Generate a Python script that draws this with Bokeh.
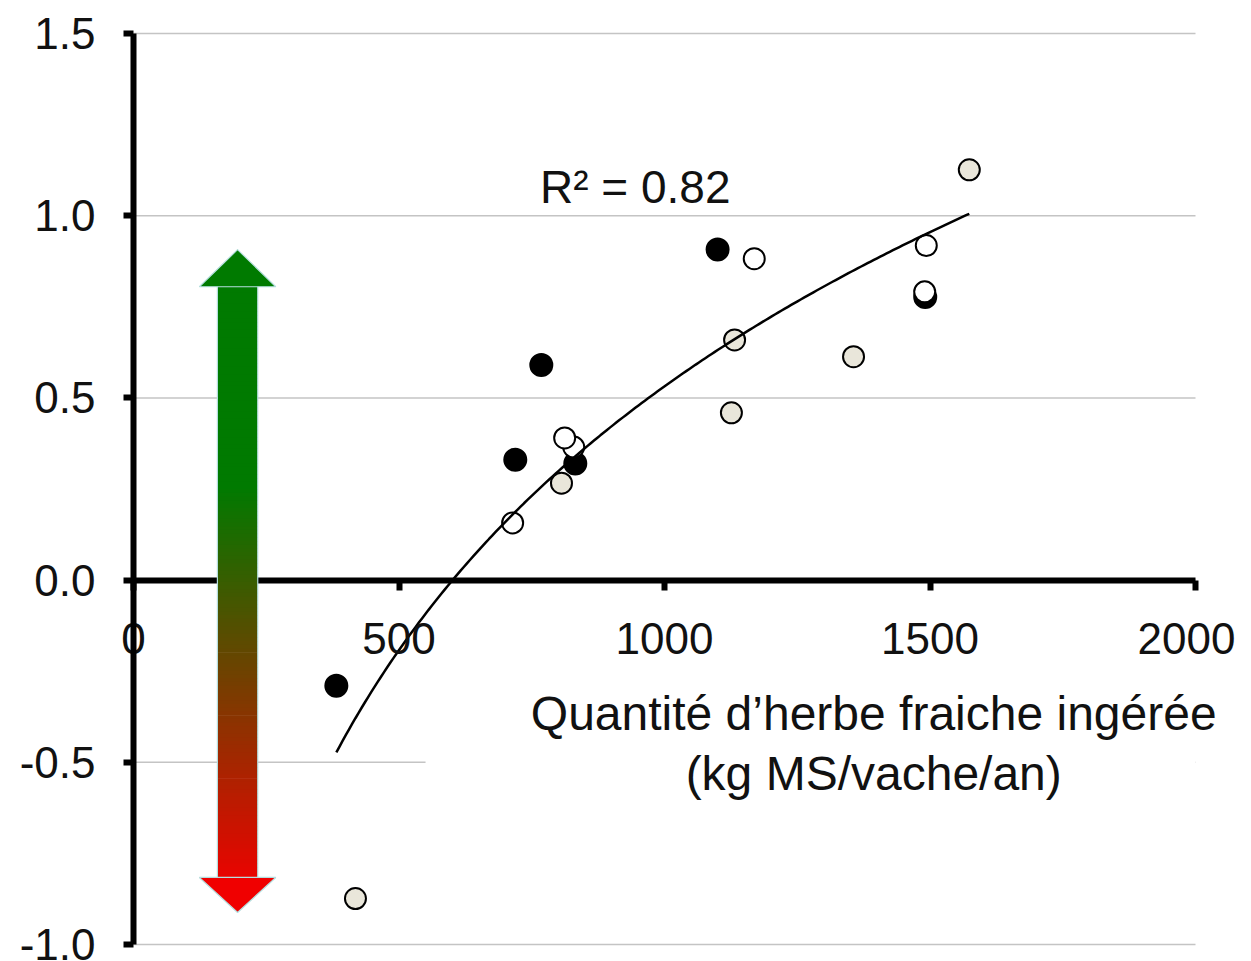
import numpy as np
from bokeh.plotting import figure
from bokeh.models import FixedTicker, BoxAnnotation, Range1d
from bokeh.core.properties import value
from bokeh.embed import file_html
from bokeh.resources import INLINE

# ---------------- data ----------------
black_x = [382, 719, 768, 832, 1100, 1491]
black_y = [-0.29, 0.33, 0.59, 0.32, 0.907, 0.777]
white_x = [714, 829, 812, 1169, 1493, 1490]
white_y = [0.157, 0.365, 0.39, 0.882, 0.918, 0.791]
beige_x = [418, 806, 1132, 1126, 1356, 1574]
beige_y = [-0.874, 0.266, 0.659, 0.459, 0.613, 1.126]

# logarithmic trendline y = a*ln(x) + b
trend_a = 1.044
trend_b = -6.68
trend_x_range = [382, 1574]
r2 = 0.82

x_ticks = [0, 500, 1000, 1500, 2000]
x_bounds = (0, 2000)
y_ticks = [-1.0, -0.5, 0.0, 0.5, 1.0, 1.5]
y_bounds = (-1.0, 1.5)
y_tick_labels = ["-1.0", "-0.5", "0.0", "0.5", "1.0", "1.5"]
x_title = ["Quantité d’herbe fraiche ingérée", "(kg MS/vache/an)"]

FONT = "Liberation Sans"
FS = "44px"

# ---------------- layout geometry (pixels) ----------------
W, H = 1235, 961
X0_PX, X1_PX = 133, 1195      # where x=0 and x=2000 sit
YT_PX, YB_PX = 33, 944        # where y=1.5 and y=-1.0 sit
sx = (X1_PX - X0_PX) / (x_bounds[1] - x_bounds[0])
sy = (YB_PX - YT_PX) / (y_bounds[1] - y_bounds[0])
x_range = Range1d(x_bounds[0] - X0_PX / sx, x_bounds[0] + (W - X0_PX) / sx)
y_range = Range1d(y_bounds[0] - (H - YB_PX) / sy, y_bounds[1] + YT_PX / sy)

p = figure(width=W, height=H, output_backend="svg", toolbar_location=None,
           x_range=x_range, y_range=y_range, min_border=0,
           min_border_left=0, min_border_right=0, min_border_top=0,
           min_border_bottom=0)
p.outline_line_color = None
p.background_fill_color = "white"
p.border_fill_color = "white"
p.grid.visible = False

# axes crossing at the origin
p.xaxis.fixed_location = 0
p.yaxis.fixed_location = 0
p.xaxis.bounds = x_bounds
p.yaxis.bounds = y_bounds
p.xaxis.ticker = FixedTicker(ticks=x_ticks)
p.yaxis.ticker = FixedTicker(ticks=y_ticks)
p.yaxis.major_label_overrides = {t: l for t, l in zip(y_ticks, y_tick_labels)}
for ax in (p.xaxis[0], p.yaxis[0]):
    ax.axis_line_width = 6
    ax.axis_line_color = "black"
    ax.major_tick_line_width = 6
    ax.major_tick_line_color = "black"
    ax.major_tick_in = 0
    ax.major_tick_out = 10
    ax.minor_tick_line_color = None
    ax.major_label_text_font = FONT
    ax.major_label_text_font_size = FS
    ax.major_label_text_color = "#111111"
p.xaxis.major_label_standoff = 33
p.yaxis.major_label_standoff = 28

# horizontal grid lines over the x extent
p.segment(x0=x_bounds[0], x1=x_bounds[1], y0=y_ticks, y1=y_ticks,
          line_color="#c4c4c4", line_width=1.5, level="underlay")

# white box behind the axis title (hides part of the -0.5 grid line)
p.add_layout(BoxAnnotation(left=550, right=2000, bottom=-0.62, top=-0.3,
                           fill_color="white", fill_alpha=1, line_alpha=0,
                           level="underlay"))

# ---------------- gradient double arrow ----------------
ax_c = 196
shaft_hw = 38
head_hw = 72
top_tip, top_base = 0.907, 0.805
bot_tip, bot_base = -0.912, -0.816
green = np.array([0, 122, 0])
red = np.array([240, 0, 0])
g_start, g_end = 0.255, -0.85
n = 160
edges = np.linspace(top_base + 0.003, bot_base - 0.003, n + 1)
tops, bots, cols = [], [], []
for i in range(n):
    mid = 0.5 * (edges[i] + edges[i + 1])
    f = np.clip((g_start - mid) / (g_start - g_end), 0, 1)
    c = (1 - f) * green + f * red
    tops.append(edges[i] + 0.001)
    bots.append(edges[i + 1] - 0.001)
    cols.append("#%02x%02x%02x" % tuple(int(round(v)) for v in c))
p.quad(left=ax_c - shaft_hw, right=ax_c + shaft_hw, top=tops, bottom=bots,
       fill_color=cols, line_color=None, level="annotation")
p.patch([ax_c - head_hw, ax_c, ax_c + head_hw], [top_base, top_tip, top_base],
        fill_color="#007a00", line_color="#b5dede", line_width=1.2, level="annotation")
p.patch([ax_c - head_hw, ax_c, ax_c + head_hw], [bot_base, bot_tip, bot_base],
        fill_color="#f00000", line_color="#b5dede", line_width=1.2, level="annotation")
for sxx in (ax_c - shaft_hw, ax_c + shaft_hw):
    p.line([sxx, sxx], [top_base, bot_base], line_color="#b5dede", line_width=1.2,
           level="annotation")

# ---------------- data points ----------------
p.scatter(black_x, black_y, size=22, fill_color="black", line_color="black", line_width=2)
p.scatter(white_x, white_y, size=21, fill_color="white", line_color="black", line_width=2)
p.scatter(beige_x, beige_y, size=21, fill_color="#e9e6da", line_color="black", line_width=2)

# trendline
tx = np.linspace(trend_x_range[0], trend_x_range[1], 200)
ty = trend_a * np.log(tx) + trend_b
p.line(tx, ty, line_color="black", line_width=2.5)

# texts
p.text(x=[945], y=[1.08], text=[f"R\u00b2 = {r2:.2f}"], text_font=value(FONT),
       text_font_size="46px", text_align="center", text_baseline="middle",
       text_color="#111111", level="overlay")
p.text(x=[1394, 1394], y=[-0.365, -0.53], text=x_title, text_font=value(FONT),
       text_font_size="48px", text_align="center", text_baseline="middle",
       text_color="#111111", level="overlay")

open("out.html", "w").write(file_html(p, INLINE))
